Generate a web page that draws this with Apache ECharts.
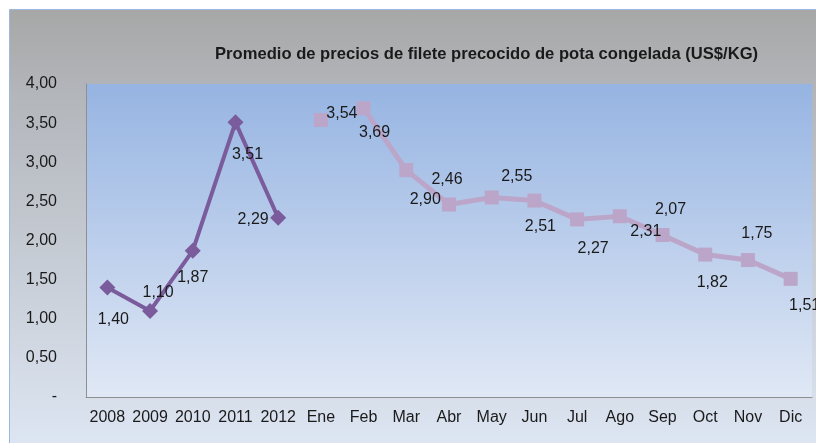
<!DOCTYPE html>
<html>
<head>
<meta charset="utf-8">
<script src="https://cdn.jsdelivr.net/npm/echarts@6/dist/echarts.min.js"></script>
<style>
  html, body { margin: 0; padding: 0; background: #fff; }
  #chart { width: 816px; height: 443px; }
</style>
</head>
<body>
<div id="chart"></div>
<script>
// datos
var years = ['2008', '2009', '2010', '2011', '2012'];
var months = ['Ene', 'Feb', 'Mar', 'Abr', 'May', 'Jun', 'Jul', 'Ago', 'Sep', 'Oct', 'Nov', 'Dic'];
var yearValues = [1.40, 1.10, 1.87, 3.51, 2.29];
var monthValues = [3.54, 3.69, 2.90, 2.46, 2.55, 2.51, 2.27, 2.31, 2.07, 1.82, 1.75, 1.51];

// desplazamiento de las etiquetas (como en Excel)
var yearLabelOffsets = [[6, 32], [8, -18], [0, 27], [12, 32], [-25, 2]];
var monthLabelOffsets = [[21, -6], [11, 24], [19, 30], [-2, -25], [25, -21], [6, 26],
  [16, 29], [26, 15], [8, -25], [7, 28], [9, -26], [14, 27]];

var categories = years.concat(months);
var font = 'Liberation Sans, Arial, sans-serif';

function fmt(v) {
  return v.toFixed(2).replace('.', ',');
}

var yearData = categories.map(function (c, i) {
  if (i >= years.length) return null;
  return { value: yearValues[i], label: { offset: yearLabelOffsets[i] } };
});
// Ene va suelto (sin linea hacia Feb)
var eneData = categories.map(function (c, i) {
  if (i !== years.length) return null;
  return { value: monthValues[0], label: { offset: monthLabelOffsets[0] } };
});
var monthData = categories.map(function (c, i) {
  var j = i - years.length;
  if (j < 1) return null;
  return { value: monthValues[j], label: { offset: monthLabelOffsets[j] } };
});

var labelStyle = {
  show: true,
  position: 'inside',
  color: '#1a1a1a',
  fontSize: 16,
  fontFamily: font,
  formatter: function (p) { return fmt(p.value); }
};

var chart = echarts.init(document.getElementById('chart'));
chart.setOption({
  animation: false,
  graphic: [{
    type: 'rect',
    z: -10,
    silent: true,
    shape: { x: 9.5, y: 9.5, width: 810, height: 440 },
    style: {
      fill: new echarts.graphic.LinearGradient(0, 0, 0, 1, [
        { offset: 0, color: '#a7a7a7' },
        { offset: 0.2, color: '#b3b6bb' },
        { offset: 1, color: '#dde6f3' }
      ]),
      stroke: '#9bb8e0',
      lineWidth: 1
    }
  }],
  title: {
    text: 'Promedio de precios de filete precocido de pota congelada (US$/KG)',
    left: 210,
    top: 41,
    textStyle: { fontSize: 16.6, fontWeight: 'bold', color: '#1a1a1a', fontFamily: font }
  },
  grid: {
    left: 86, right: 4, top: 84, bottom: 46,
    show: true,
    borderWidth: 0,
    backgroundColor: new echarts.graphic.LinearGradient(0, 0, 0, 1, [
      { offset: 0, color: '#96b4e2' },
      { offset: 1, color: '#e0e8f5' }
    ])
  },
  xAxis: {
    type: 'category',
    data: categories,
    boundaryGap: true,
    axisLine: { lineStyle: { color: '#8f8f8f', width: 1 } },
    axisTick: { show: false },
    axisLabel: { color: '#1a1a1a', fontSize: 16, fontFamily: font, margin: 13, interval: 0 }
  },
  yAxis: {
    type: 'value',
    min: 0,
    max: 4,
    interval: 0.5,
    axisLine: { show: true, lineStyle: { color: '#8f8f8f', width: 1 } },
    axisTick: { show: false },
    splitLine: { show: false },
    axisLabel: {
      color: '#1a1a1a', fontSize: 16, fontFamily: font, margin: 29,
      formatter: function (v) { return v === 0 ? '-' : fmt(v); }
    }
  },
  series: [
    {
      type: 'line',
      data: yearData,
      symbol: 'diamond',
      symbolSize: 16,
      itemStyle: { color: '#7a5b9b' },
      lineStyle: { color: '#7a5b9b', width: 4 },
      label: labelStyle,
      z: 3
    },
    {
      type: 'line',
      data: eneData,
      symbol: 'rect',
      symbolSize: 14,
      itemStyle: { color: '#bba6ca' },
      label: labelStyle,
      z: 2
    },
    {
      type: 'line',
      data: monthData,
      symbol: 'rect',
      symbolSize: 14,
      itemStyle: { color: '#bba6ca' },
      lineStyle: { color: '#bba6ca', width: 5 },
      label: labelStyle,
      z: 2
    }
  ]
});
</script>
</body>
</html>
